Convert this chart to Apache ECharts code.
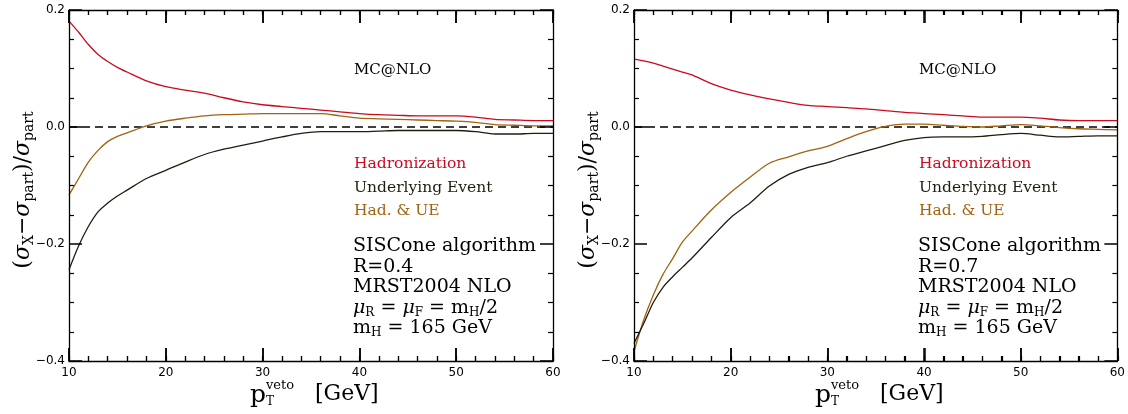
<!DOCTYPE html>
<html>
<head>
<meta charset="utf-8">
<script src="https://cdn.jsdelivr.net/npm/echarts@6/dist/echarts.min.js"></script>
<style>
  html, body { margin: 0; padding: 0; background: #fff; }
  #main { width: 1128px; height: 414px; }
</style>
</head>
<body>
<div id="main"></div>
<script>
// pT veto values (GeV), shared by both panels
var ptVeto = [10, 11, 12, 13, 14, 15, 16, 18, 20, 22, 24, 26, 28, 30, 32, 34, 36, 38, 40, 42, 44, 46, 48, 50, 52, 54, 56, 58, 60];

// left panel, R=0.4
var hadL = [0.181, 0.162, 0.141, 0.124, 0.112, 0.102, 0.094, 0.079, 0.069, 0.063, 0.058, 0.050, 0.043, 0.038, 0.035, 0.032, 0.029, 0.026, 0.023, 0.021, 0.020, 0.019, 0.019, 0.019, 0.017, 0.013, 0.012, 0.011, 0.011];
var ueL = [-0.244, -0.203, -0.170, -0.145, -0.130, -0.118, -0.108, -0.088, -0.074, -0.060, -0.047, -0.038, -0.031, -0.024, -0.017, -0.011, -0.008, -0.008, -0.008, -0.007, -0.006, -0.006, -0.006, -0.006, -0.008, -0.012, -0.012, -0.011, -0.011];
var bothL = [-0.116, -0.088, -0.060, -0.040, -0.025, -0.016, -0.010, 0.002, 0.010, 0.015, 0.019, 0.021, 0.022, 0.023, 0.023, 0.023, 0.023, 0.019, 0.015, 0.014, 0.013, 0.012, 0.011, 0.010, 0.008, 0.004, 0.003, 0.002, 0.002];

// right panel, R=0.7
var hadR = [0.116, 0.113, 0.109, 0.104, 0.099, 0.094, 0.089, 0.074, 0.063, 0.055, 0.048, 0.042, 0.037, 0.035, 0.033, 0.031, 0.028, 0.025, 0.023, 0.021, 0.019, 0.017, 0.017, 0.017, 0.015, 0.012, 0.011, 0.011, 0.011];
var ueR = [-0.370, -0.336, -0.300, -0.274, -0.256, -0.240, -0.224, -0.189, -0.155, -0.130, -0.101, -0.081, -0.069, -0.061, -0.050, -0.041, -0.032, -0.023, -0.018, -0.017, -0.017, -0.016, -0.013, -0.011, -0.014, -0.017, -0.016, -0.015, -0.015];
var bothR = [-0.384, -0.330, -0.287, -0.252, -0.225, -0.197, -0.178, -0.142, -0.112, -0.086, -0.062, -0.051, -0.041, -0.033, -0.020, -0.008, 0.001, 0.005, 0.005, 0.003, 0.001, 0.000, 0.002, 0.004, 0.002, -0.001, -0.003, -0.004, -0.005];

// dashed reference line at zero
var zeroLine = [[10, 0], [60, 0]];

var radius = ['R=0.4', 'R=0.7'];

var RED = '#cc0a1e', DARK = '#1e1e10', BROWN = '#a3620f';
var SERIF = 'DejaVu Serif';

var chart = echarts.init(document.getElementById('main'));

function pairs(ys) {
  return ptVeto.map(function (x, i) { return [x, ys[i]]; });
}

var grids = [], xAxes = [], yAxes = [], series = [], graphics = [];
var panelLeft = [69, 634];

// thin strips along top/bottom edges whose split lines act as x ticks
function tickStrip(L, top, h, step) {
  var g = grids.length;
  grids.push({ left: L, top: top, width: 484, height: h });
  xAxes.push({
    gridIndex: g, type: 'value', min: 10, max: 60, interval: step, silent: true,
    axisLine: { show: false }, axisTick: { show: false }, axisLabel: { show: false },
    splitLine: { show: true, lineStyle: { color: '#000', width: step == 10 ? 1.5 : 1.2 } }
  });
  yAxes.push({ gridIndex: g, type: 'value', min: 0, max: 1, show: false });
}

for (let p = 0; p < 2; p++) {
  var L = panelLeft[p];
  var g = grids.length;
  grids.push({ left: L, top: 10, width: 484, height: 351 });
  var xi = xAxes.length, yi = yAxes.length;

  ['bottom', 'top'].forEach(function (pos) {
    xAxes.push({
      gridIndex: g, type: 'value', position: pos, min: 10, max: 60, interval: 10, z: 10,
      axisLine: { show: true, onZero: false, lineStyle: { color: '#000', width: 1.3 } },
      axisTick: { show: true, inside: true, length: 13, lineStyle: { color: '#000', width: 1.5 } },
      minorTick: { show: true, splitNumber: 5, length: 5, lineStyle: { color: '#000', width: 1.2 } },
      axisLabel: { show: pos == 'bottom', margin: 6, color: '#000', fontSize: 12, fontFamily: 'DejaVu Sans' },
      splitLine: { show: false }
    });
  });
  ['left', 'right'].forEach(function (pos) {
    yAxes.push({
      gridIndex: g, type: 'value', position: pos, min: -0.4, max: 0.2, interval: 0.2, z: 10,
      axisLine: { show: true, onZero: false, lineStyle: { color: '#000', width: 1.3 } },
      axisTick: { show: true, inside: true, length: 13, lineStyle: { color: '#000', width: 1.5 } },
      minorTick: { show: true, splitNumber: 4, length: 5, lineStyle: { color: '#000', width: 1.2 } },
      axisLabel: {
        show: pos == 'left', margin: 4, color: '#000', fontSize: 12, fontFamily: 'DejaVu Sans',
        formatter: function (v) { return v.toFixed(1).replace('-', '\u2212'); }
      },
      splitLine: { show: false }
    });
  });

  series.push({
    type: 'line', xAxisIndex: xi, yAxisIndex: yi, data: zeroLine, symbol: 'none',
    lineStyle: { color: '#000', type: [8, 5], width: 1.4 }, silent: true
  });

  var sets = p == 0 ? [hadL, bothL, ueL] : [hadR, bothR, ueR];
  var cols = [RED, BROWN, DARK];
  var names = ['Hadronization', 'Had. & UE', 'Underlying Event'];
  for (let s = 0; s < 3; s++) {
    series.push({
      name: names[s] + p, type: 'line', xAxisIndex: xi, yAxisIndex: yi,
      data: pairs(sets[s]), symbol: 'none', smooth: 0.3,
      lineStyle: { color: cols[s], width: 1.3 }, silent: true
    });
  }

  tickStrip(L, 348, 13, 10);
  tickStrip(L, 356, 5, 2);
  tickStrip(L, 10, 13, 10);
  tickStrip(L, 10, 5, 2);

  // texts in the plot
  var tx = L + 285;
  graphics.push({ type: 'text', left: tx, top: 63, style: { text: 'MC@NLO', font: '15px "' + SERIF + '"', fill: '#000' } });
  graphics.push({ type: 'text', left: tx, top: 156, style: { text: 'Hadronization', font: '15.5px "' + SERIF + '"', fill: RED } });
  graphics.push({ type: 'text', left: tx, top: 180, style: { text: 'Underlying Event', font: '15.5px "' + SERIF + '"', fill: DARK } });
  graphics.push({ type: 'text', left: tx, top: 203, style: { text: 'Had. & UE', font: '15.5px "' + SERIF + '"', fill: BROWN } });

  var big = { fontSize: 19, fontFamily: SERIF, color: '#000', lineHeight: 20.5 };
  var sub = { fontSize: 12, fontFamily: SERIF, color: '#000', lineHeight: 20.5, padding: [9, 0, 0, 0] };
  var it = { fontSize: 19, fontFamily: SERIF, fontStyle: 'italic', color: '#000', lineHeight: 20.5 };
  graphics.push({
    type: 'text', left: tx - 1, top: 237,
    style: {
      text: [
        '{a|SISCone algorithm}',
        '{a|' + radius[p] + '}',
        '{a|MRST2004 NLO}',
        '{i|\u03bc}{s|R}{a| = }{i|\u03bc}{s|F}{a| = m}{s|H}{a|/2}',
        '{a|m}{s|H}{a| = 165 GeV}'
      ].join('\n'),
      rich: { a: big, s: sub, i: it }
    }
  });

  // x axis title
  graphics.push({ type: 'text', left: L + 181, top: 383, style: { text: 'p', font: '25px "' + SERIF + '"', fill: '#000' } });
  graphics.push({ type: 'text', left: L + 197, top: 379, style: { text: 'veto', font: '13px "' + SERIF + '"', fill: '#000' } });
  graphics.push({ type: 'text', left: L + 197, top: 396, style: { text: 'T', font: '12px "' + SERIF + '"', fill: '#000' } });
  graphics.push({ type: 'text', left: L + 246, top: 383, style: { text: '[GeV]', font: '22px "' + SERIF + '"', fill: '#000' } });

  // y axis title, rotated
  graphics.push({
    type: 'text', x: L - 46, y: 190, rotation: Math.PI / 2,
    style: {
      text: '{a|(}{i|\u03c3}{s|X}{a|\u2212}{i|\u03c3}{s|part}{a|)/}{i|\u03c3}{s|part}',
      align: 'center', verticalAlign: 'middle',
      rich: {
        a: { fontSize: 22, fontFamily: SERIF, color: '#000', lineHeight: 26 },
        i: { fontSize: 22, fontFamily: SERIF, fontStyle: 'italic', color: '#000', lineHeight: 26 },
        s: { fontSize: 14, fontFamily: SERIF, color: '#000', lineHeight: 26, padding: [12, 0, 0, 0] }
      }
    }
  });
}

chart.setOption({
  animation: false,
  grid: grids,
  xAxis: xAxes,
  yAxis: yAxes,
  series: series,
  graphic: graphics
});
</script>
</body>
</html>
